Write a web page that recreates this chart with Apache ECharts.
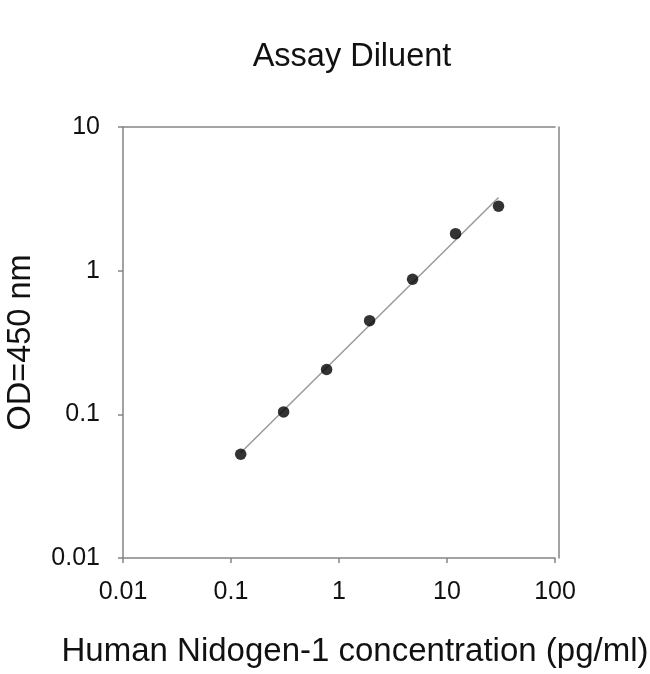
<!DOCTYPE html>
<html>
<head>
<meta charset="utf-8">
<script src="https://cdn.jsdelivr.net/npm/echarts@6/dist/echarts.min.js"></script>
<style>
html, body { margin: 0; padding: 0; background: #fff; }
#ct1 { width: 650px; height: 674px; }
</style>
</head>
<body>
<div id="ct1"></div>
<script>
// standard curve, Human Nidogen-1, assay diluent
var concentration = [0.123, 0.307, 0.768, 1.92, 4.8, 12, 30];
var od450 = [0.0527, 0.104, 0.205, 0.449, 0.871, 1.81, 2.81];
// fitted line end points
var fitX = [0.123, 30];
var fitY = [0.054, 3.23];
var tickValues = [0.01, 0.1, 1, 10, 100];

var font = 'Liberation Sans, Arial, sans-serif';
var axisGray = '#858585';
var textColor = '#111';

function fmt(v) {
	return String(parseFloat(Number(v).toPrecision(6)));
}

function pairs(xs, ys) {
	var out = [];
	for (var i = 0; i < xs.length; i++) {
		out.push([xs[i], ys[i]]);
	}
	return out;
}

var option1 = {
	backgroundColor: '#fff',
	animation: false,
	title: {
		text: 'Assay Diluent',
		left: 347,
		top: 36,
		textAlign: 'center',
		textStyle: { fontFamily: font, fontSize: 32.5, fontWeight: 'normal', color: textColor }
	},
	grid: { left: 123, right: 95, top: 127, bottom: 116, containLabel: false, outerBoundsMode: 'none' },
	xAxis: [{
		type: 'log',
		logBase: 10,
		min: tickValues[0],
		max: tickValues[tickValues.length - 1],
		name: 'Human Nidogen-1 concentration (pg/ml)',
		nameLocation: 'middle',
		nameGap: 77,
		nameTextStyle: { fontFamily: font, fontSize: 33, color: textColor, padding: [0, 0, 0, 32] },
		axisLine: { show: true, lineStyle: { color: axisGray, width: 1.5 } },
		axisTick: { show: true, inside: false, length: 5, lineStyle: { color: axisGray, width: 1.5 } },
		axisLabel: { margin: 22, fontFamily: font, fontSize: 25, color: textColor, formatter: fmt },
		splitLine: { show: false },
		minorTick: { show: false }
	}, {
		type: 'log',
		logBase: 10,
		position: 'top',
		min: tickValues[0],
		max: tickValues[tickValues.length - 1],
		axisLine: { show: true, onZero: false, lineStyle: { color: axisGray, width: 1.5 } },
		axisTick: { show: false },
		axisLabel: { show: false },
		splitLine: { show: false }
	}],
	yAxis: [{
		type: 'log',
		logBase: 10,
		min: tickValues[0],
		max: tickValues[3],
		name: 'OD=450 nm',
		nameLocation: 'middle',
		nameGap: 85,
		nameTextStyle: { fontFamily: font, fontSize: 32.5, color: textColor },
		axisLine: { show: true, lineStyle: { color: axisGray, width: 1.5 } },
		axisTick: { show: true, inside: false, length: 5, lineStyle: { color: axisGray, width: 1.5 } },
		axisLabel: { margin: 23, fontFamily: font, fontSize: 25, color: textColor, formatter: fmt },
		splitLine: { show: false }
	}, {
		type: 'log',
		logBase: 10,
		position: 'right',
		offset: 4,
		min: tickValues[0],
		max: tickValues[3],
		axisLine: { show: true, onZero: false, lineStyle: { color: axisGray, width: 1.5 } },
		axisTick: { show: false },
		axisLabel: { show: false },
		splitLine: { show: false }
	}],
	series: [{
		name: 'fit',
		type: 'line',
		data: pairs(fitX, fitY),
		showSymbol: false,
		symbol: 'none',
		lineStyle: { color: '#9a9a9a', width: 1.5 },
		z: 1
	}, {
		name: 'standard',
		type: 'scatter',
		data: pairs(concentration, od450),
		symbol: 'circle',
		symbolSize: 11.5,
		itemStyle: { color: '#000' },
		z: 2
	}]
};

var myChart1 = echarts.init(document.getElementById('ct1'));
myChart1.setOption(option1, true);
</script>
</body>
</html>
